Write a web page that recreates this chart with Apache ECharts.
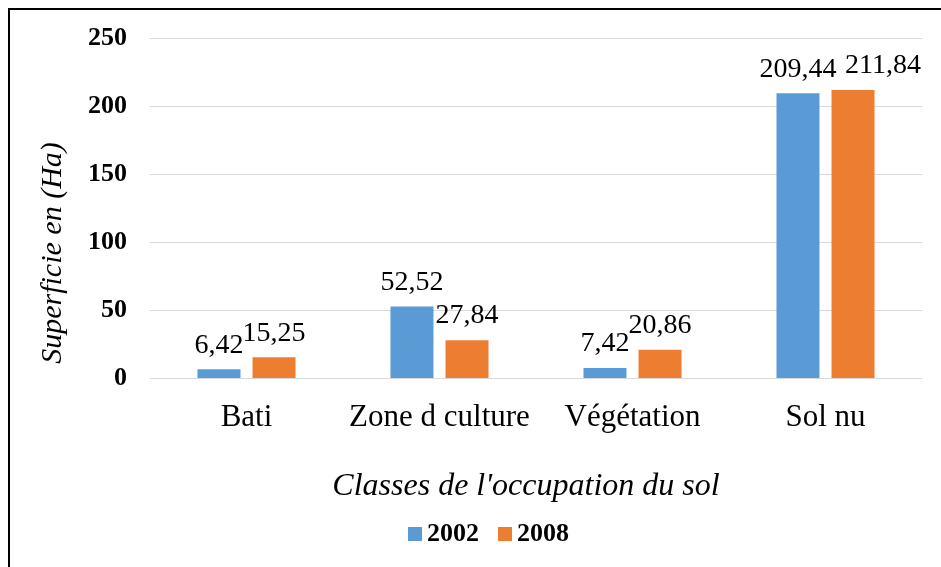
<!DOCTYPE html>
<html>
<head>
<meta charset="utf-8">
<script src="https://cdn.jsdelivr.net/npm/echarts@6/dist/echarts.min.js"></script>
<style>
  html, body { margin: 0; padding: 0; background: #fff; }
  #main { width: 941px; height: 567px; }
</style>
</head>
<body>
<div id="main"></div>
<script>
// données
var categories = ['Bati', 'Zone d culture', 'Végétation', 'Sol nu'];
var values2002 = [6.42, 52.52, 7.42, 209.44];
var values2008 = [15.25, 27.84, 20.86, 211.84];
var yTicks = [0, 50, 100, 150, 200, 250];

var myChart = echarts.init(document.getElementById('main'));

var fontFamily = '"Liberation Serif", "Times New Roman", serif';

function labelFmt(p) {
    return p.value.toFixed(2).replace('.', ',');
}

// étiquette 211,84 décalée à droite comme sur l'original
var data2008 = values2008.map(function (v, i) {
    if (i === 3) {
        return { value: v, label: { offset: [30, 0] } };
    }
    return v;
});

option = {
    textStyle: { fontFamily: fontFamily },
    graphic: [{
        type: 'rect',
        shape: { x: 9, y: 9, width: 960, height: 600 },
        style: { fill: 'none', stroke: '#000', lineWidth: 2 },
        silent: true
    }],
    legend: {
        data: ['2002', '2008'],
        left: 403,
        top: 516,
        itemWidth: 14,
        itemHeight: 14,
        itemGap: 19,
        itemStyle: { borderWidth: 0 },
        icon: 'rect',
        textStyle: { fontFamily: fontFamily, fontSize: 26, fontWeight: 'bold', color: '#000' }
    },
    grid: {
        left: 150,
        right: 19,
        top: 38,
        bottom: 189,
        containLabel: false
    },
    xAxis: [{
        type: 'category',
        data: categories,
        name: "Classes de l'occupation du sol",
        nameLocation: 'middle',
        nameGap: 93,
        nameTextStyle: { fontFamily: fontFamily, fontSize: 32, fontStyle: 'italic', color: '#000', padding: [0, 20, 0, 0] },
        axisLine: { lineStyle: { color: '#d9d9d9', width: 1 } },
        axisTick: { show: false },
        axisLabel: { interval: 0, fontFamily: fontFamily, fontSize: 31, color: '#000', margin: 24 }
    }],
    yAxis: [{
        type: 'value',
        min: yTicks[0],
        max: yTicks[yTicks.length - 1],
        interval: 50,
        name: 'Superficie en (Ha)',
        nameLocation: 'middle',
        nameGap: 82,
        nameRotate: 90,
        nameTextStyle: { fontFamily: fontFamily, fontSize: 30, fontStyle: 'italic', color: '#000', padding: [0, 90, 0, 0] },
        axisLine: { show: false },
        axisTick: { show: false },
        splitLine: { lineStyle: { color: '#d9d9d9', width: 1 } },
        axisLabel: { fontFamily: fontFamily, fontSize: 26, fontWeight: 'bold', color: '#000', margin: 23 }
    }],
    series: [{
        type: 'bar',
        name: '2002',
        data: values2002,
        barWidth: 43,
        barGap: '28%',
        itemStyle: { color: '#5b9bd5' },
        label: {
            show: true,
            position: 'top',
            distance: 10,
            formatter: labelFmt,
            fontFamily: fontFamily,
            fontSize: 28,
            color: '#000'
        }
    }, {
        type: 'bar',
        name: '2008',
        data: data2008,
        barWidth: 43,
        itemStyle: { color: '#ed7d31' },
        label: {
            show: true,
            position: 'top',
            distance: 10,
            formatter: labelFmt,
            fontFamily: fontFamily,
            fontSize: 28,
            color: '#000'
        }
    }]
};

myChart.setOption(option, true);
window.addEventListener('resize', function () {
    myChart.resize();
});
</script>
</body>
</html>
